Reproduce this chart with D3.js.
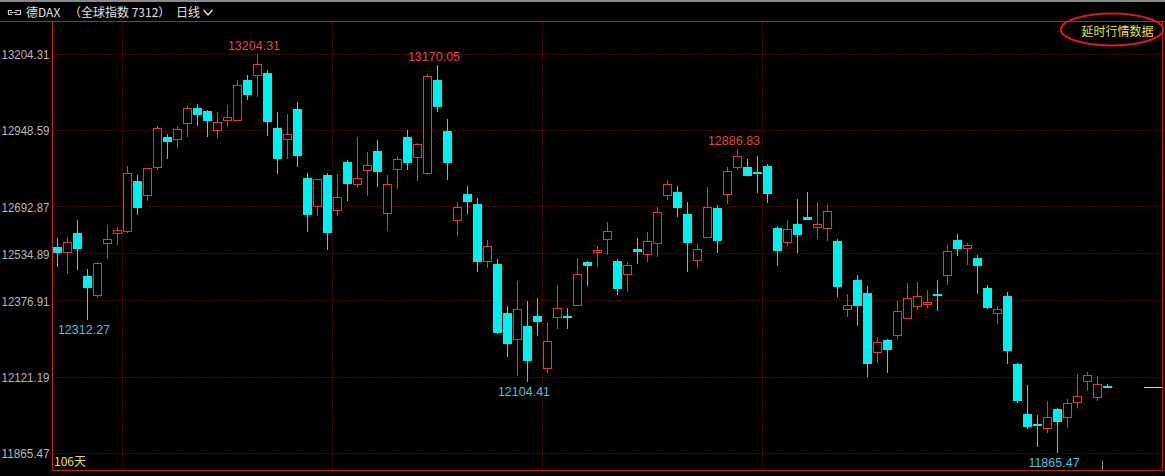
<!DOCTYPE html>
<html><head><meta charset="utf-8">
<script src="https://cdn.jsdelivr.net/npm/d3@7"></script>
<style>html,body{margin:0;padding:0;background:#000;overflow:hidden}svg{display:block}</style>
</head><body><svg id="c" width="1165" height="476"></svg>
<script>
// ---- data (DAX daily, 106 days) ----
const openV = [12557.7,12539.9,12604.7,12460.4,12396.6,12572.1,12605.7,12611.4,12778.2,12733.2,
12827.1,12926.8,12919.1,12974.8,13023.1,13014.0,12949.3,12984.8,12983.8,13118.1,
13133.8,13141.6,12956.0,12919.1,13020.8,12789.2,12694.3,12799.3,12680.8,12842.9,
12768.1,12815.1,12879.8,12670.8,12818.4,12926.8,12858.7,12807.0,13118.1,12946.9,
12647.3,12735.5,12702.0,12509.7,12499.6,12335.2,12248.0,12292.6,12326.2,12150.7,
12321.8,12326.2,12363.1,12508.4,12541.9,12583.5,12511.7,12466.1,12550.0,12533.2,
12570.1,12731.2,12741.2,12668.4,12514.1,12592.3,12688.6,12734.5,12827.1,12826.1,
12810.4,12829.5,12621.4,12573.5,12634.9,12657.4,12623.8,12622.5,12576.8,12348.6,
12447.0,12402.3,12204.4,12244.6,12263.4,12320.5,12358.7,12367.4,12399.0,12464.7,
12581.2,12555.3,12519.8,12420.1,12337.2,12393.3,12165.1,11997.3,11962.8,11951.4,
12014.1,11988.3,12038.6,12109.1,12055.4,12091.3];
const highV = [12586.9,12591.3,12647.3,12484.9,12506.4,12630.5,12623.8,12828.5,12798.3,12823.8,
12963.7,12935.9,12963.7,13034.2,13038.5,13017.4,13010.7,13034.2,13118.1,13134.8,
13204.31,13150.6,13010.7,13004.0,13044.2,12805.0,12786.0,12806.0,12801.6,12849.6,
12925.8,12875.5,12916.7,12799.3,12863.0,12950.3,12905.7,13138.2,13170.05,12987.2,
12709.7,12763.4,12721.1,12581.2,12518.4,12359.7,12444.6,12376.5,12386.6,12305.0,
12430.2,12352.0,12519.8,12511.7,12561.1,12641.6,12517.4,12506.4,12586.9,12608.0,
12690.9,12782.5,12762.4,12707.7,12566.8,12759.0,12699.6,12827.1,12886.83,12853.0,
12863.0,12835.2,12626.5,12647.3,12717.8,12741.2,12707.7,12697.6,12585.5,12399.0,
12462.7,12427.8,12254.7,12248.0,12376.5,12435.9,12439.2,12413.4,12448.0,12563.4,
12601.3,12572.1,12529.8,12429.2,12359.7,12406.7,12168.5,12094.6,11994.0,12042.0,
12018.5,12046.7,12131.5,12138.3,12124.8,12098.0];
const lowV = [12491.6,12468.1,12481.5,12312.27,12385.6,12518.4,12565.4,12605.7,12666.1,12711.0,
12815.1,12854.0,12890.9,12927.8,12964.7,12926.8,12919.1,12961.4,12980.5,13051.0,
13062.0,12931.2,12803.7,12854.0,12827.1,12609.0,12662.7,12548.6,12662.7,12712.1,
12754.7,12729.8,12760.0,12611.4,12753.3,12817.1,12780.2,12800.3,13011.7,12783.5,
12595.6,12669.4,12474.8,12488.2,12266.8,12189.6,12125.8,12104.41,12260.1,12133.9,
12281.5,12283.6,12360.7,12427.8,12491.6,12530.8,12397.6,12407.7,12499.6,12508.4,
12523.1,12716.4,12659.4,12472.8,12488.2,12586.9,12538.6,12703.0,12816.1,12795.0,
12737.9,12704.3,12493.9,12562.1,12538.6,12648.3,12584.5,12578.8,12390.9,12323.8,
12293.6,12122.5,12169.5,12135.9,12248.0,12317.1,12346.3,12354.0,12344.0,12431.2,
12527.5,12498.3,12400.0,12350.7,12300.3,12164.1,12035.2,11946.0,11887.6,11932.6,
11865.47,11951.4,12018.5,12075.5,12042.0,12085.6];
const closeV = [12538.6,12574.5,12551.0,12421.1,12503.0,12583.5,12614.7,12805.0,12689.6,12821.8,
12956.0,12911.0,12953.6,13023.1,13001.6,12980.5,12976.1,12992.9,13101.3,13068.7,
13170.7,12978.1,12854.0,12937.9,12864.1,12666.1,12784.9,12605.7,12724.5,12770.1,
12789.2,12832.9,12810.4,12769.1,12853.0,12840.6,12903.3,13131.5,13028.5,12840.6,
12690.9,12709.7,12508.4,12560.0,12270.1,12233.2,12348.6,12176.2,12307.0,12241.3,
12353.0,12318.4,12466.1,12494.9,12547.6,12611.4,12417.8,12496.3,12541.9,12576.8,
12674.1,12768.1,12687.6,12572.1,12550.0,12690.9,12578.8,12811.7,12862.0,12796.9,
12806.0,12735.5,12545.3,12617.1,12599.0,12649.3,12634.9,12677.5,12424.5,12362.1,
12360.7,12164.1,12237.9,12211.1,12341.9,12385.6,12392.3,12372.1,12393.3,12544.3,
12551.0,12563.4,12493.9,12354.0,12349.7,12209.7,12040.9,11954.7,11958.1,11988.3,
11971.5,12033.2,12056.7,12128.2,12097.0,12085.6];

const tickLabels = ["13204.31","12948.59","12692.87","12534.89","12376.91","12121.19","11865.47"];
const monthStartIdx = [7, 28, 49, 71];
const highMarks = [20, 38, 68];
const lowMarks = [3, 47, 100];
const titleParts = ["德DAX", "（全球指数 7312）", "日线"];
const dayCountLabel = "106天";
const delayLabel = "延时行情数据";

// ---- colors ----
const RED = "#f03232", CYAN = "#00f0f0", GRID = "#a01010", AXIS = "#c81c1c";
const LABEL_RED = "#e84444", LABEL_CYAN = "#3cc8e0", YELLOW = "#e8e040", GREY = "#b8b8b8";

const svg = d3.select("#c");
const W = 1165, H = 476;
const L = 52.5, R = 1162.5, T = 21.5, B = 470.5;

svg.append("rect").attr("width", W).attr("height", H).attr("fill", "#000");
svg.append("rect").attr("width", W).attr("height", 2).attr("fill", "#8a8a8a");

const idx = d3.range(openV.length);
const x = d3.scaleBand().domain(idx).range([52.5, 52.5 + 10 * idx.length]);
const cx = i => x(i) + x.bandwidth() / 2;
const tickVals = tickLabels.map(Number);
const y = d3.scaleLinear().domain([d3.min(tickVals), d3.max(tickVals)]).range([453.3, 54.3]);
const yr = v => Math.round(y(v));

// grid
const gh = svg.append("g");
tickVals.forEach(v => {
  const yy = Math.floor(y(v)) + 0.5;
  gh.append("line").attr("x1", L + 1).attr("x2", R).attr("y1", yy).attr("y2", yy)
    .attr("stroke", GRID).attr("stroke-dasharray", "1,2");
});
monthStartIdx.forEach(i => {
  gh.append("line").attr("x1", x(i)).attr("x2", x(i)).attr("y1", T + 1).attr("y2", B)
    .attr("stroke", GRID).attr("stroke-dasharray", "1,2");
});

// frame
svg.append("line").attr("x1", 0).attr("x2", W).attr("y1", T).attr("y2", T).attr("stroke", AXIS);
svg.append("line").attr("x1", L).attr("x2", L).attr("y1", T).attr("y2", B).attr("stroke", AXIS);
svg.append("line").attr("x1", R).attr("x2", R).attr("y1", T).attr("y2", B).attr("stroke", AXIS);
svg.append("line").attr("x1", L).attr("x2", R).attr("y1", B).attr("y2", B).attr("stroke", AXIS);

// y labels
const yAxis = d3.axisLeft(y).tickValues(tickVals).tickFormat((d, i) => tickLabels[i]).tickSize(0).tickPadding(0);
const ga = svg.append("g").attr("transform", "translate(49.5,0)").call(yAxis);
ga.select(".domain").remove();
ga.selectAll("text").attr("fill", GREY).attr("font-family", "Liberation Sans, Arial, sans-serif")
  .attr("font-size", 12).attr("dy", "0.36em")
  .attr("textLength", 48).attr("lengthAdjust", "spacingAndGlyphs");

// candles
const gc = svg.append("g").attr("shape-rendering", "crispEdges");
idx.forEach(i => {
  const o = openV[i], c = closeV[i], h = highV[i], l = lowV[i];
  const xc = cx(i);
  const yH = yr(h), yL = yr(l);
  if (c > o) {
    const top = yr(c), bot = Math.max(yr(o), top + 1);
    gc.append("line").attr("x1", xc).attr("x2", xc).attr("y1", yH).attr("y2", top).attr("stroke", RED);
    gc.append("line").attr("x1", xc).attr("x2", xc).attr("y1", bot + 1).attr("y2", Math.max(yL, bot + 1)).attr("stroke", RED);
    gc.append("rect").attr("x", xc - 4).attr("y", top + 0.5).attr("width", 8).attr("height", bot - top)
      .attr("fill", "#000").attr("stroke", RED);
  } else {
    const top = yr(o), bot = Math.max(yr(c), top + 2);
    gc.append("line").attr("x1", xc).attr("x2", xc).attr("y1", yH).attr("y2", yL).attr("stroke", CYAN);
    gc.append("rect").attr("x", xc - 4.5).attr("y", top).attr("width", 9).attr("height", bot - top)
      .attr("fill", CYAN);
  }
});

// extreme labels
const lf = "Liberation Sans, Arial, sans-serif";
highMarks.forEach(i => {
  svg.append("text").attr("x", cx(i) - 3.5).attr("y", y(highV[i]) - 4).attr("text-anchor", "middle")
    .attr("font-family", lf).attr("font-size", 12.5).attr("fill", LABEL_RED).text(d3.format(".2f")(highV[i]));
});
lowMarks.forEach(i => {
  svg.append("text").attr("x", cx(i) - 3.5).attr("y", y(lowV[i]) + 14).attr("text-anchor", "middle")
    .attr("font-family", lf).attr("font-size", 12.5).attr("fill", LABEL_CYAN).text(d3.format(".2f")(lowV[i]));
});

// last price line
const lastY = Math.round(y(closeV[closeV.length - 1])) - 0.5;
svg.append("line").attr("x1", 1144).attr("x2", R - 0.5).attr("y1", lastY).attr("y2", lastY).attr("stroke", YELLOW);
// cursor tick
svg.append("line").attr("x1", 1102.5).attr("x2", 1102.5).attr("y1", 461).attr("y2", 470).attr("stroke", "#8a8a8a");

// header
const cf = "Noto Sans CJK SC, sans-serif";
const hd = svg.append("g").attr("fill", "#e0e0e0").attr("font-family", cf).attr("font-size", 12);
hd.append("path").attr("d", "M12,10.5 H8.5 V14.5 H12 M15,10.5 H20.5 V14.5 H15 M10,12.5 H17")
  .attr("fill", "none").attr("stroke", "#c8c8c8").attr("stroke-width", 1.2);
hd.append("text").attr("x", 26).attr("y", 17).text(titleParts[0]);
hd.append("text").attr("x", 69).attr("y", 17).text(titleParts[1]);
hd.append("text").attr("x", 176).attr("y", 17).text(titleParts[2]);
hd.append("path").attr("d", "M203.5,10 L208,15 L212.5,10").attr("fill", "none").attr("stroke", "#e0e0e0").attr("stroke-width", 1.5);

// delay tag
svg.append("ellipse").attr("cx", 1112).attr("cy", 29.5).attr("rx", 51).attr("ry", 16)
  .attr("fill", "none").attr("stroke", "#e01818").attr("stroke-width", 2);
svg.append("text").attr("x", 1117.5).attr("y", 35.5).attr("text-anchor", "middle")
  .attr("font-family", cf).attr("font-size", 12).attr("fill", YELLOW).text(delayLabel);

// day count
svg.append("text").attr("x", 54).attr("y", 466).attr("font-family", cf).attr("font-size", 12)
  .attr("fill", YELLOW).text(dayCountLabel);
</script></body></html>
